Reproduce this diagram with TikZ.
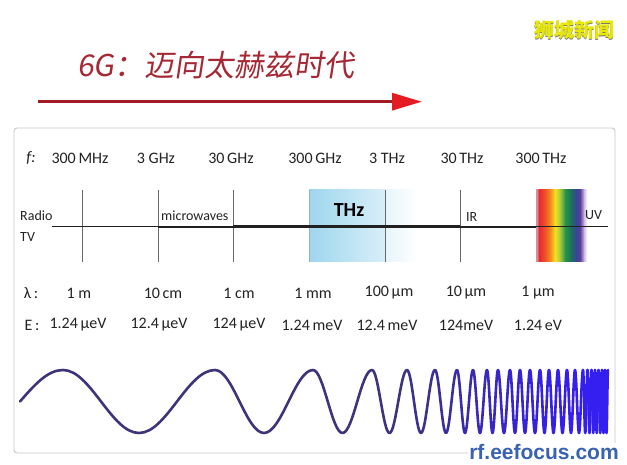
\documentclass[tikz,border=0pt]{standalone}
\usepackage{fontspec}
\setmainfont{Carlito}
\newfontfamily\cjk[FakeSlant=0.15]{Noto Sans CJK SC}
\newfontfamily\cjkup{Noto Sans CJK SC}
\newfontfamily\webfont{Liberation Sans}
\usetikzlibrary{arrows.meta}

\definecolor{inkgray}{RGB}{35,35,35}
\definecolor{tickgray}{RGB}{105,105,105}
\definecolor{framegray}{RGB}{200,200,200}
\definecolor{titlered}{RGB}{165,40,52}
\definecolor{arrowdark}{RGB}{160,28,34}
\definecolor{arrowred}{RGB}{228,28,34}
\definecolor{brandyellow}{RGB}{232,232,0}
\definecolor{thzblue}{RGB}{158,214,238}
\definecolor{wavedark}{RGB}{62,52,122}
\definecolor{wavebright}{RGB}{52,30,240}
\definecolor{webblue}{RGB}{58,98,178}
% spectrum colours, left to right
\definecolor{spA}{RGB}{232,170,182}
\definecolor{spB}{RGB}{230,40,50}
\definecolor{spC}{RGB}{240,92,40}
\definecolor{spD}{RGB}{246,152,30}
\definecolor{spE}{RGB}{246,226,30}
\definecolor{spF}{RGB}{168,200,60}
\definecolor{spG}{RGB}{40,150,72}
\definecolor{spH}{RGB}{30,110,92}
\definecolor{spI}{RGB}{52,72,152}
\definecolor{spJ}{RGB}{92,60,152}
\definecolor{spK}{RGB}{205,188,225}

\begin{document}
\begin{tikzpicture}[x=1pt,y=-1pt,
  lbl/.style={font=\fontsize{16}{18}\selectfont, text=inkgray, inner sep=1pt},
  bandlbl/.style={font=\fontsize{14}{16}\selectfont, text=inkgray, inner sep=1pt},
  brandtxt/.style={font=\cjkup\bfseries\fontsize{20}{22}\selectfont},
  tick/.style={draw=tickgray, line width=0.9pt},
  axis/.style={draw=inkgray!90!black},
  wave/.style={line width=2.6pt, line cap=round, line join=round},
  progress/.style={draw=arrowdark, line width=3pt,
    -{Triangle[length=30pt,width=17pt,color=arrowred]}}]

\useasboundingbox (0,0) rectangle (627,465);
\fill[white] (0,0) rectangle (627,465);

% heading and arrow
\node[brandtxt, text=black!55] (brandshadow) at (574.8,31) {狮城新闻};
\node[brandtxt, text=brandyellow] (brand) at (574,30) {狮城新闻};
\node[font=\cjk\fontsize{30}{33}\selectfont, text=titlered, anchor=west, inner sep=0pt] (heading) at (77,65) {6G：迈向太赫兹时代};
\coordinate (arrowtail) at (38,101.7);
\coordinate (arrowtip) at (422,101.7);
\draw[progress] (arrowtail) -- (arrowtip);

% frame
\draw[framegray, line width=0.9pt, rounded corners=3pt] (14,128) rectangle (615,453);

% THz band
\shade[left color=thzblue, right color=thzblue!40] (309,190) rectangle (385,262);
\shade[left color=thzblue!25, right color=white] (385,190) rectangle (418,262);
\draw[thzblue!60!gray, line width=0.8pt] (309,190) -- (309,262);

% visible spectrum
\foreach \xa/\ca/\xb/\cb in {536/spA/539/spB, 539/spB/546/spC, 546/spC/551/spD,
    551/spD/555/spE, 555/spE/560/spF, 560/spF/565/spG, 565/spG/571/spH,
    571/spH/576/spI, 576/spI/580/spJ, 580/spJ/584/spK, 584/spK/587/white}
  \shade[left color=\ca, right color=\cb] (\xa,190) rectangle (\xb+0.3,262);
\draw[spA!60!gray, line width=0.8pt] (536,190) -- (536,262);

% ticks
\foreach \x in {82,158,233,385,460}
  \draw[tick] (\x,190) -- (\x,262);

% axis line, thicker towards the middle
\draw[axis, line width=1pt] (52,226.7) -- (608,226.7);
\draw[axis, line width=2pt] (158,226.7) -- (536,226.7);
\draw[axis, line width=2.8pt] (233,226.7) -- (460,226.7);
\draw[axis, line width=3.6pt] (309,226.7) -- (385,226.7);

% band names
\node[bandlbl, anchor=west] (radio) at (19,216) {Radio};
\node[bandlbl, anchor=west] (tv) at (19,237) {TV};
\node[bandlbl, anchor=west] (micro) at (160,216) {microwaves};
\node[font=\bfseries\fontsize{20}{22}\selectfont, text=black] (thz) at (349,210) {THz};
\node[bandlbl, anchor=west] (ir) at (465,217) {IR};
\node[bandlbl, anchor=west] (uv) at (584,215) {UV};

% frequency, wavelength and energy rows
\node[lbl] (flbl) at (31,158) {\itshape f:};
\foreach \x/\t [count=\i] in {80/300\,MHz, 156/3 GHz, 231/30\,GHz, 315/300\,GHz,
    387/3 THz, 462/30\,THz, 541/300\,THz}
  \node[lbl] (freq\i) at (\x,158) {\t};
\node[lbl] (lamlbl) at (31,293) {λ\,:};
\foreach \x/\t [count=\i] in {79/1 m, 163/10\,cm, 239/1 cm, 313/1 mm,
    389/100\,µm, 466/10\,µm, 538/1 µm}
  \node[lbl] (lam\i) at (\x,293) {\t};
\node[lbl] (elbl) at (32,325) {E\,:};
\foreach \x/\t [count=\i] in {78/1.24\,µeV, 159/12.4\,µeV, 239/124\,µeV, 312/1.24\,meV,
    387/12.4\,meV, 466/124meV, 538/1.24\,eV}
  \node[lbl] (en\i) at (\x,325) {\t};

% chirped wave
\draw[wave, wavedark] (20,401.5) sin (63,370);
\foreach \a/\b in {63/215, 215/313, 313/372, 372/407, 407/435, 435/457, 457/473,
    473/487, 487/498, 498/510, 510/520, 520/530, 530/540, 540/549, 549/558,
    558/567, 567/575, 575/583, 583/587.5, 587.5/591.5, 591.5/595, 595/598.5,
    598.5/602, 602/605, 605/608} {
  \pgfmathtruncatemacro\mix{max(0,min(100,(\a-380)/1.8))}
  \draw[wave, wavebright!\mix!wavedark] (\a,370) cos ({(3*\a+\b)/4},401.5)
    sin ({(\a+\b)/2},433) cos ({(\a+3*\b)/4},401.5) sin (\b,370);
}

\node[font=\webfont\bfseries\fontsize{21}{23}\selectfont, text=webblue, fill=white, inner sep=1pt] (site) at (544,452) {rf.eefocus.com};
\end{tikzpicture}
\end{document}
